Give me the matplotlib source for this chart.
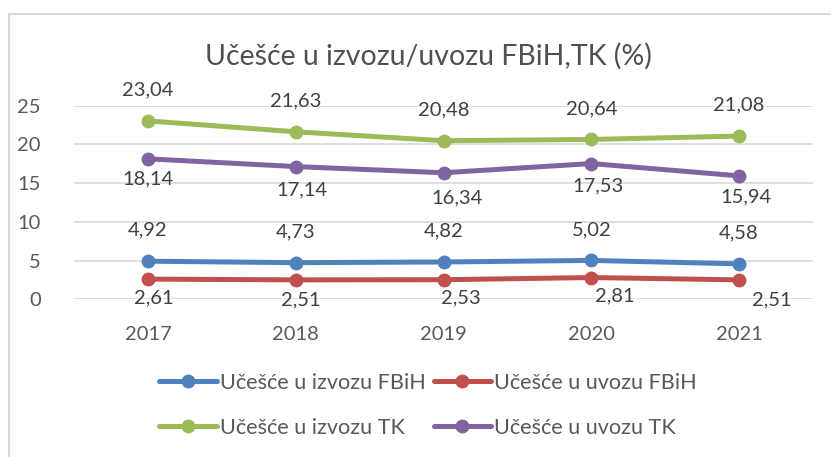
import matplotlib
matplotlib.use("Agg")
import matplotlib.pyplot as plt
from matplotlib.lines import Line2D

years = ["2017", "2018", "2019", "2020", "2021"]
izvoz_fbih = [4.92, 4.73, 4.82, 5.02, 4.58]
uvoz_fbih = [2.61, 2.51, 2.53, 2.81, 2.51]
izvoz_tk = [23.04, 21.63, 20.48, 20.64, 21.08]
uvoz_tk = [18.14, 17.14, 16.34, 17.53, 15.94]
labels = ["Učešće u izvozu FBiH", "Učešće u uvozu FBiH",
          "Učešće u izvozu TK", "Učešće u uvozu TK"]
title = "Učešće u izvozu/uvozu FBiH,TK (%)"
yticks = [0, 5, 10, 15, 20, 25]

colors = ["#4F81BD", "#C0504D", "#9BBB59", "#8064A2"]
# label offsets in pixels (dx, dy) per series
offs = [
    [(0, 31)] * 5,
    [(6, -19), (5, -20), (17, -18), (24, -18), (33, -20)],
    [(0, 31)] * 5,
    [(0, -20), (6, -23), (14, -25), (7, -22), (7, -21)],
]

plt.rcParams['font.family'] = ['Lato', 'DejaVu Sans']
W, H = 831, 457
fig = plt.figure(figsize=(W / 100, H / 100), dpi=100)
ax = fig.add_axes([74 / W, 1 - 299.3 / H, (813 - 74) / W, (299.3 - 105.7) / H])

x = list(range(len(years)))
series = [izvoz_fbih, uvoz_fbih, izvoz_tk, uvoz_tk]
txtc = "#404040"
lines = []
for s, c, lab, off in zip(series, colors, labels, offs):
    ln, = ax.plot(x, s, color=c, lw=3.6, marker='o', ms=9, label=lab,
                  solid_capstyle='round', zorder=3)
    lines.append(ln)
    for xi, v, (dx, dy) in zip(x, s, off):
        ax.annotate(f"{v:.2f}".replace(".", ","), (xi, v), xytext=(dx, dy),
                    textcoords='offset pixels', ha='center', va='center',
                    fontsize=14.5, color=txtc, zorder=4)

ax.set_xlim(-0.5, 4.5)
ax.set_ylim(0, 25)
ax.set_yticks(yticks)
ax.set_xticks(x)
ax.set_xticklabels(years)
ax.grid(axis='y', color='#D9D9D9', lw=1.2)
ax.set_axisbelow(True)
for sp in ax.spines.values():
    sp.set_visible(False)
ax.tick_params(length=0, labelsize=14.5, labelcolor='#595959')
ax.tick_params(axis='x', pad=19)
ax.tick_params(axis='y', pad=24)

fig.text(428 / W, 1 - 56 / H, title, ha='center', va='center',
         fontsize=20.5, color='#505050')

order = [0, 2, 1, 3]
leg = fig.legend([lines[i] for i in order], [labels[i] for i in order],
                 loc='center', bbox_to_anchor=(428 / W, 1 - 405.5 / H), ncol=2,
                 frameon=False, fontsize=15.6, handlelength=2.67,
                 handletextpad=0.14, columnspacing=0.37, labelspacing=1.15)
for t in leg.get_texts():
    t.set_color('#595959')

# chart border
fig.add_artist(Line2D([9 / W, 1], [1 - 14 / H] * 2, color='#D9D9D9', lw=1.5))
fig.add_artist(Line2D([9 / W] * 2, [0, 1 - 14 / H], color='#D9D9D9', lw=1.5))

fig.savefig("out.png", dpi=100)
